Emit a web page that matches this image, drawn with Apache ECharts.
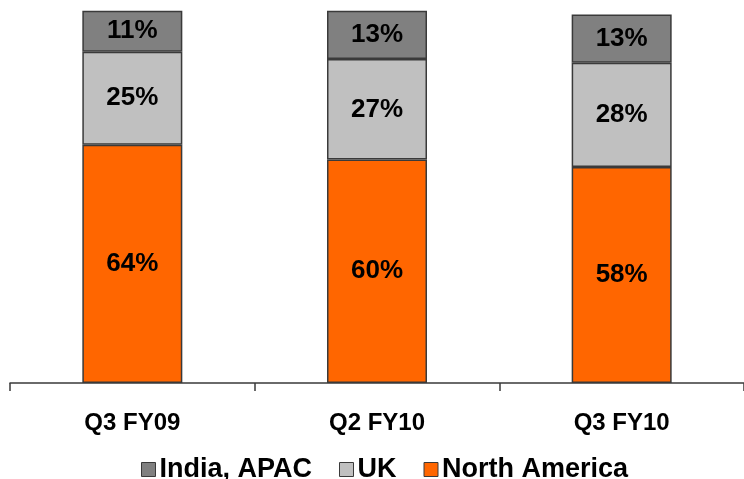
<!DOCTYPE html>
<html>
<head>
<meta charset="utf-8">
<script src="https://cdn.jsdelivr.net/npm/echarts@6/dist/echarts.min.js"></script>
<style>
  html, body { margin: 0; padding: 0; background: #ffffff; }
  #chart { width: 744px; height: 479px; }
</style>
</head>
<body>
<div id="chart"></div>
<script>
// Revenue mix by geography (% of total)
const categories = ['Q3 FY09', 'Q2 FY10', 'Q3 FY10'];
const northAmerica = [64, 60, 58];
const uk = [25, 27, 28];
const indiaApac = [11, 13, 13];

const FONT = '"Liberation Sans", Arial, sans-serif';
const edge = '#3a3a3a';

function segment(name, data, color) {
  return {
    name: name,
    type: 'bar',
    stack: 'mix',
    data: data,
    barWidth: 100,
    itemStyle: { color: color, borderColor: edge, borderWidth: 1.5 },
    label: {
      show: true,
      position: 'inside',
      formatter: '{c}%',
      color: '#000',
      fontFamily: FONT,
      fontWeight: 'bold',
      fontSize: 26
    }
  };
}

const chart = echarts.init(document.getElementById('chart'), null, { renderer: 'canvas' });
chart.setOption({
  animation: false,
  backgroundColor: '#ffffff',
  grid: { left: 10, right: 0, top: 10.7, bottom: 96 },
  legend: {
    left: 136,
    top: 451,
    itemWidth: 14,
    itemHeight: 14,
    itemGap: 27,
    icon: 'rect',
    data: ['India, APAC', 'UK', 'North America'],
    itemStyle: { borderColor: edge, borderWidth: 1 },
    textStyle: { fontFamily: FONT, fontWeight: 'bold', fontSize: 27, color: '#000', padding: [0, 0, 0, -1] }
  },
  xAxis: {
    type: 'category',
    data: categories,
    axisLine: { show: true, lineStyle: { color: edge, width: 1.5 } },
    axisTick: { show: true, length: 8, lineStyle: { color: edge, width: 1.5 } },
    axisLabel: {
      margin: 28,
      color: '#000',
      fontFamily: FONT,
      fontWeight: 'bold',
      fontSize: 24
    }
  },
  yAxis: {
    type: 'value',
    min: 0,
    max: 100,
    show: false,
    splitLine: { show: false }
  },
  series: [
    segment('North America', northAmerica, '#FF6600'),
    segment('UK', uk, '#C0C0C0'),
    segment('India, APAC', indiaApac, '#808080')
  ]
});
</script>
</body>
</html>
